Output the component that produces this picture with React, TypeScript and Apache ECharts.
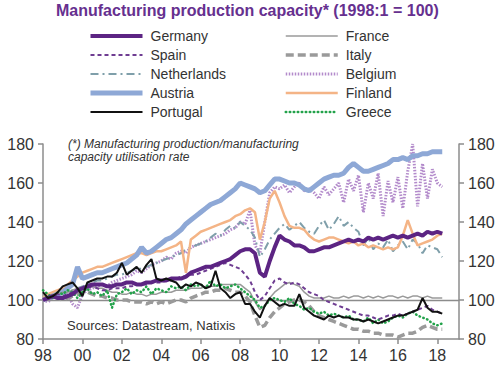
import React, { useEffect, useRef } from "react";
import * as echarts from "echarts";

// Quarterly observations, first = 1998 Q1, last = 2018 Q2
const startYear = 1998;

const germany = [
  100, 101, 102, 101,
  101, 102, 103, 105,
  106, 107, 108, 108,
  108, 107, 107, 108,
  108, 109, 109, 108,
  108, 109, 109, 110,
  110, 110, 111, 111,
  111, 112, 114, 115,
  116, 117, 117, 118,
  119, 120, 121, 123,
  125, 126, 126, 124,
  114, 112, 120, 127,
  133, 131, 130, 128,
  128, 127, 125, 125,
  126, 127, 127, 128,
  129, 130, 131, 130,
  131, 130, 132, 131,
  132, 131, 132, 133,
  132, 133, 132, 133,
  134, 133, 135, 134,
  135, 134,
];

const spain = [
  100, 101, 102, 103,
  102, 103, 104, 105,
  106, 106, 107, 106,
  105, 105, 106, 106,
  106, 107, 107, 108,
  108, 108, 109, 109,
  109, 110, 110, 111,
  112, 112, 113, 113,
  114, 115, 116, 117,
  118, 119, 118, 117,
  116, 113, 110, 104,
  100, 102, 106, 110,
  111, 109, 108, 109,
  108, 106, 104, 103,
  102, 100, 99, 98,
  97, 96, 95, 94,
  93, 92, 92, 91,
  90, 91, 92, 92,
  93, 92, 93, 94,
  95, 96, 97, 95,
  94, 93,
];

const netherlands = [
  100, 101, 102, 102,
  103, 104, 105, 106,
  107, 108, 109, 110,
  110, 111, 112, 113,
  113, 114, 115, 116,
  116, 117, 118, 119,
  120, 121, 122, 123,
  124, 126, 127, 128,
  129, 130, 132, 134,
  133, 136, 138, 137,
  140, 138, 136, 132,
  122, 126, 131, 134,
  137, 139, 136, 138,
  140, 137, 135, 134,
  138, 141, 136, 139,
  143, 138, 140, 137,
  135, 128, 132, 126,
  129, 127, 131, 125,
  128, 130, 126, 131,
  129, 124, 128, 127,
  126, 122,
];

const austria = [
  100, 101, 102, 103,
  104, 106, 108, 117,
  111, 112, 113, 114,
  114, 115, 116, 117,
  118, 119, 121, 123,
  127, 124, 125, 127,
  129, 131, 132, 134,
  136, 139, 141, 143,
  145, 147, 149, 150,
  151, 153, 155, 157,
  160, 159, 158, 157,
  155, 156, 159, 162,
  162, 161, 160, 160,
  159, 157, 156, 158,
  160, 162, 163, 164,
  164, 165, 168, 170,
  168, 166, 166, 167,
  168, 169, 170, 172,
  172, 173, 172, 174,
  174, 175, 175, 176,
  176, 176,
];

const portugal = [
  104, 101, 102, 104,
  107, 108, 109, 106,
  102, 109, 110, 111,
  111, 112, 112, 114,
  119, 113, 115, 117,
  114, 118, 121, 111,
  110, 111, 110, 109,
  106, 108, 107, 109,
  108, 106, 107, 115,
  106, 104, 101, 103,
  104, 98, 98, 94,
  91, 97, 101, 99,
  97, 98, 97, 97,
  103, 96, 94, 92,
  91, 90, 92, 91,
  92, 91, 91, 90,
  90, 89, 90, 89,
  88, 89, 90, 91,
  92, 92, 93, 94,
  95, 101, 96, 94,
  94, 93,
];

const france = [
  101, 102, 103, 103,
  104, 104, 105, 106,
  106, 107, 107, 106,
  106, 105, 104, 104,
  103, 103, 104, 103,
  103, 102, 103, 103,
  104, 104, 104, 105,
  105, 105, 106, 106,
  106, 107, 107, 107,
  108, 108, 108, 108,
  108, 106, 104, 99,
  95, 97, 101, 104,
  106, 108, 109, 108,
  107, 104, 102, 101,
  101, 101, 102, 101,
  101, 102, 101, 102,
  102, 101, 102, 101,
  102, 101, 102, 102,
  101, 102, 101, 102,
  102, 101, 102, 101,
  101, 101,
];

const italy = [
  100, 101, 102, 101,
  100, 101, 102, 103,
  104, 104, 103, 102,
  102, 101, 101, 100,
  100, 100, 99, 99,
  99, 98, 99, 98,
  99, 98, 99, 100,
  100, 99, 101, 102,
  103, 104, 104, 105,
  105, 106, 105, 104,
  104, 102, 99, 92,
  86, 87, 91, 94,
  96, 98, 99, 100,
  100, 99, 97, 94,
  92, 91, 90, 89,
  88, 87, 86, 85,
  85, 84, 84, 83,
  83, 82, 82, 82,
  81, 82, 83, 83,
  84, 86, 87, 86,
  85, 85,
];

const belgium = [
  100, 99, 101, 102,
  101, 103, 98, 96,
  103, 105, 106, 107,
  108, 107, 109, 110,
  111, 112, 113, 115,
  114, 116, 118, 119,
  120, 122, 121, 124,
  125, 124, 127, 128,
  129, 130, 131, 132,
  133, 134, 136, 137,
  140, 139, 146, 128,
  124, 140, 155, 158,
  157, 159, 155, 158,
  160, 156, 157, 155,
  152, 158, 154, 157,
  160, 150, 162, 156,
  164, 145, 160, 152,
  165, 143, 161, 150,
  163, 147, 166, 180,
  148, 170, 152, 167,
  160, 158,
];

const finland = [
  101, 103, 104, 105,
  106, 108, 110, 112,
  114, 115, 116, 117,
  117, 118, 119, 120,
  121, 122, 123, 124,
  124, 123, 124, 125,
  125, 126, 127, 128,
  130, 114, 131, 133,
  135, 136, 137, 138,
  139, 140, 141, 143,
  144, 146, 147, 145,
  131, 140, 152, 156,
  150, 143, 138, 137,
  137, 136, 133, 131,
  130, 131, 132, 132,
  131, 130, 129, 130,
  128, 129, 127, 128,
  127, 126, 127, 126,
  127, 133, 141, 134,
  128, 129, 130, 131,
  133, 134,
];

const greece = [
  105, 103, 101, 104,
  103, 105, 104, 101,
  104, 106, 103, 104,
  102, 105, 96, 103,
  104, 106, 103, 105,
  104, 107, 103, 106,
  105, 104, 107, 106,
  107, 105, 108, 107,
  108, 106, 110, 107,
  108, 106, 107, 108,
  106, 104, 102, 100,
  96, 97, 100, 101,
  100, 99, 101, 98,
  97, 95, 96, 94,
  93, 94, 92, 93,
  92, 91, 92, 90,
  90, 89, 91, 88,
  90, 88, 89, 91,
  92, 91, 93, 94,
  92, 91, 90, 88,
  87, 88,
];

const leftLegend = ["Germany", "Spain", "Netherlands", "Austria", "Portugal"];
const rightLegend = ["France", "Italy", "Belgium", "Finland", "Greece"];
const yTicks = { min: 80, max: 180, interval: 20 };

const FONT = '"Liberation Sans", Arial, sans-serif';

type Def = {
  name: string;
  values: number[];
  color: string;
  width: number;
  dash: any;
  cap?: string;
  z: number;
};

const defs: Def[] = [
  { name: "Belgium", values: belgium, color: "#B38BCB", width: 3, dash: [1.5, 1.5], z: 1 },
  { name: "Netherlands", values: netherlands, color: "#7F9FAA", width: 2, dash: [8, 4, 2, 4], z: 2 },
  { name: "Finland", values: finland, color: "#F4B486", width: 2.5, dash: "solid", z: 3 },
  { name: "Austria", values: austria, color: "#8EA8D6", width: 5, dash: "solid", z: 4 },
  { name: "Italy", values: italy, color: "#9A9A9A", width: 3.5, dash: [8, 4], z: 5 },
  { name: "France", values: france, color: "#9A9A9A", width: 1.5, dash: "solid", z: 6 },
  { name: "Greece", values: greece, color: "#22A24A", width: 2.5, dash: [0.5, 3.5], cap: "round", z: 7 },
  { name: "Spain", values: spain, color: "#6F3D92", width: 2, dash: [4, 3], z: 8 },
  { name: "Germany", values: germany, color: "#5C2483", width: 4, dash: "solid", z: 9 },
  { name: "Portugal", values: portugal, color: "#111111", width: 2, dash: "solid", z: 10 },
];

export default function App() {
  const ref = useRef<HTMLDivElement>(null);

  useEffect(() => {
    if (!ref.current) return;
    const chart = echarts.init(ref.current, undefined, { renderer: "svg" });

    const series: any[] = defs.map((d) => ({
      name: d.name,
      type: "line",
      symbol: "none",
      showSymbol: false,
      z: d.z,
      data: d.values.map((v, i) => [startYear + i / 4, v]),
      lineStyle: { color: d.color, width: d.width, type: d.dash, cap: d.cap || "butt" },
      itemStyle: { color: d.color },
      ...(d.name === "France"
        ? {
            markLine: {
              silent: true,
              symbol: "none",
              label: { show: false },
              lineStyle: { color: "#8C8C8C", width: 1.3, type: "solid" },
              data: [{ yAxis: 100 }],
            },
          }
        : {}),
    }));

    const legendCommon = {
      orient: "vertical",
      top: 29,
      padding: 0,
      itemWidth: 52,
      itemHeight: 14,
      itemGap: 5,
      selectedMode: false,
      itemStyle: { opacity: 0 },
      textStyle: { fontSize: 14, color: "#333", fontFamily: FONT, padding: [0, 0, 0, 3] },
      lineStyle: { width: "inherit" },
    };

    const axisColor = "#8C8C8C";
    const yAxisBase = {
      type: "value",
      ...yTicks,
      axisLine: { show: true, lineStyle: { color: axisColor, width: 1.5 } },
      axisTick: { show: true, length: 5, lineStyle: { color: axisColor, width: 1.5 } },
      axisLabel: { fontSize: 16, color: "#333", margin: 9, fontFamily: FONT },
      splitLine: { show: false },
    };

    chart.setOption({
      animation: false,
      backgroundColor: "#fff",
      textStyle: { fontFamily: FONT },
      title: {
        text: "Manufacturing production capacity* (1998:1 = 100)",
        left: 56,
        top: 2,
        padding: 0,
        textStyle: { fontSize: 16, fontWeight: "bold", color: "#66308F", fontFamily: FONT },
      },
      legend: [
        { ...legendCommon, left: 88, data: leftLegend },
        { ...legendCommon, left: 284, data: rightLegend },
      ],
      grid: { left: 43, right: 41, top: 144, bottom: 33, containLabel: false },
      xAxis: {
        type: "value",
        min: 1998,
        max: 2019.1,
        interval: 2,
        axisLine: { show: true, lineStyle: { color: axisColor, width: 1.5 } },
        axisTick: { show: true, length: 5, lineStyle: { color: axisColor, width: 1.5 } },
        axisLabel: {
          fontSize: 16,
          color: "#333",
          margin: 8,
          fontFamily: FONT,
          showMaxLabel: false,
          formatter: (v: number) => String(Math.round(v)).slice(2),
        },
        splitLine: { show: false },
      },
      yAxis: [
        { ...yAxisBase, position: "left" },
        { ...yAxisBase, position: "right" },
      ],
      graphic: [
        {
          type: "text",
          left: 68,
          top: 137,
          style: {
            text: "(*) Manufacturing production/manufacturing\ncapacity utilisation rate",
            font: `italic 12px ${FONT}`,
            fill: "#333",
            lineHeight: 13,
          },
        },
        {
          type: "text",
          left: 67,
          top: 319,
          style: {
            text: "Sources: Datastream, Natixis",
            font: `13px ${FONT}`,
            fill: "#333",
          },
        },
      ],
      series,
    });

    return () => chart.dispose();
  }, []);

  return (
    <div
      ref={ref}
      style={{ position: "fixed", left: 0, top: 0, width: 500, height: 372, background: "#fff" }}
    />
  );
}
